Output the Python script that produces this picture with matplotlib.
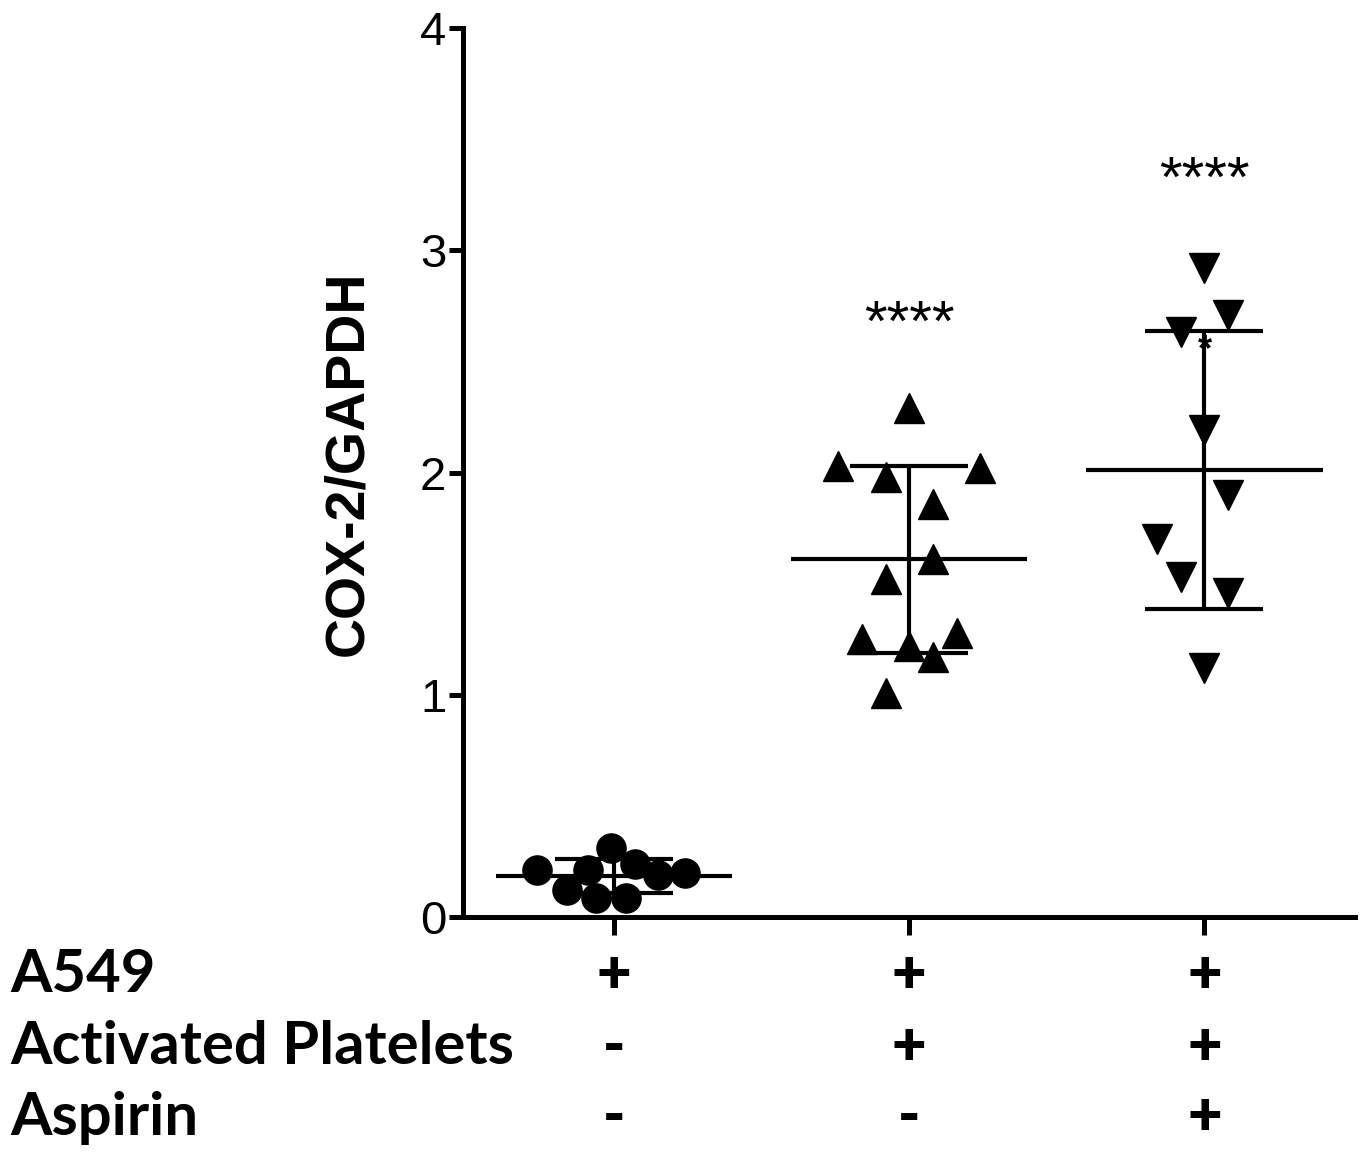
import matplotlib.pyplot as plt
import numpy as np

# group positions and raw values
x_pos = [1, 2, 3]
ctrl = [0.21, 0.12, 0.21, 0.085, 0.31, 0.085, 0.24, 0.19, 0.20]
ctrl_dx = [-0.26, -0.16, -0.09, -0.06, -0.01, 0.04, 0.07, 0.15, 0.24]
plt_act = [2.29, 2.03, 1.98, 2.02, 1.86, 1.61, 1.52, 1.25, 1.22, 1.28, 1.17, 1.01]
plt_dx = [0.0, -0.24, -0.08, 0.24, 0.08, 0.08, -0.08, -0.16, 0.0, 0.16, 0.08, -0.08]
asp = [2.92, 2.71, 2.63, 2.19, 1.90, 1.70, 1.53, 1.46, 1.12]
asp_dx = [0.0, 0.08, -0.08, 0.0, 0.08, -0.16, -0.08, 0.08, 0.0]

means = [0.185, 1.61, 2.01]
sds = [0.075, 0.42, 0.625]
stars = ['', '****', '****']
star_y = [0, 2.66, 3.31]

row_names = ['A549', 'Activated Platelets', 'Aspirin']
row_signs = [['+', '+', '+'], ['-', '+', '+'], ['-', '-', '+']]

fig = plt.figure(figsize=(13.67, 11.53), dpi=100)
ax = fig.add_axes([463/1367, 1-917/1153, (1355-463)/1367, (917-28)/1153])

ax.plot(np.array(ctrl_dx) + 1, ctrl, 'o', color='k', ms=21, zorder=2)
ax.plot(np.array(plt_dx) + 2, plt_act, '^', color='k', ms=22, zorder=2)
ax.plot(np.array(asp_dx) + 3, asp, 'v', color='k', ms=22, zorder=2)

for x, m, s in zip(x_pos, means, sds):
    ax.hlines(m, x - 0.4, x + 0.4, color='k', lw=3, zorder=3)
    ax.vlines(x, m - s, m + s, color='k', lw=3, zorder=3)
    ax.hlines([m - s, m + s], x - 0.2, x + 0.2, color='k', lw=3, zorder=3)

for x, st, sy in zip(x_pos, stars, star_y):
    if st:
        ax.text(x, sy, st, ha='center', va='center', fontsize=42,
                family='Liberation Sans')
ax.text(3, 2.55, '*', ha='center', va='center', fontsize=26,
        fontweight='bold', family='Liberation Sans')

ax.set_xlim(0.488, 3.51)
ax.set_ylim(0, 4)
ax.set_yticks([0, 1, 2, 3, 4])
ax.set_xticks(x_pos)
ax.set_xticklabels([])
for s in ['top', 'right']:
    ax.spines[s].set_visible(False)
for s in ['left', 'bottom']:
    ax.spines[s].set_linewidth(3.6)
ax.tick_params(axis='y', length=10, width=3.6, labelsize=34, pad=2)
ax.tick_params(axis='x', length=13, width=3.6)
for t in ax.get_yticklabels():
    t.set_family('Liberation Sans')

ax.set_ylabel('COX-2/GAPDH', fontsize=40, fontweight='bold',
              family='Liberation Sans')
ax.yaxis.set_label_coords(-0.10, 0.51)

row_y = [975, 1047, 1118]
for name, signs, py in zip(row_names, row_signs, row_y):
    fig.text(10/1367, 1 - py/1153, name, ha='left', va='center',
             fontsize=43, fontweight='bold', family='Lato')
    yy = (917 - py) / (917 - 28) * 4
    for x, sg in zip(x_pos, signs):
        ax.text(x, yy, sg, ha='center', va='center', fontsize=43,
                fontweight='heavy', family='Lato', clip_on=False)

fig.savefig('out.png', dpi=100)
